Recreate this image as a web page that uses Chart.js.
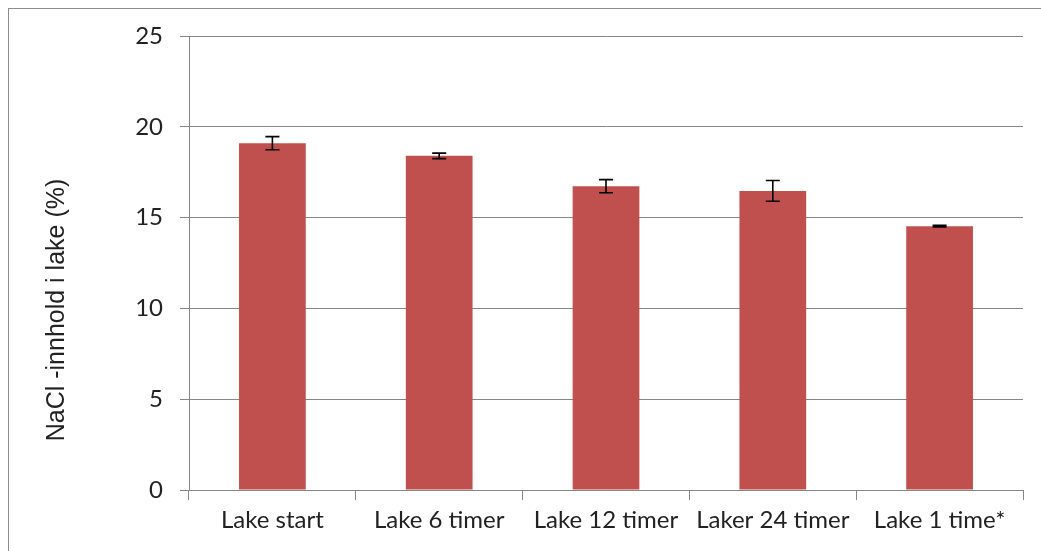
<!DOCTYPE html>
<html>
<head>
<meta charset="utf-8">
<script src="https://cdn.jsdelivr.net/npm/chart.js@4"></script>
<style>
    body { margin: 0; background: #fff; }
    #wrap { width: 1041px; height: 551px; position: relative; }
</style>
</head>
<body>
<div id="wrap"><canvas id="naclChart"></canvas></div>
<script>
// data
const categories = ['Lake start', 'Lake 6 timer', 'Lake 12 timer', 'Laker 24 timer', 'Lake 1 time*'];
const naclValues = [19.1, 18.4, 16.73, 16.47, 14.53];
const naclErrors = [0.36, 0.15, 0.36, 0.57, 0.04];
const yTicks = [0, 5, 10, 15, 20, 25];

// Error bars (Chart.js has none built in)
const errorBars = {
    id: 'errorBars',
    afterDatasetsDraw: chart => {
        const ctx = chart.ctx;
        const x = chart.scales.x;
        const y = chart.scales.y;
        ctx.save();
        ctx.strokeStyle = '#000';
        ctx.lineWidth = 1.6;
        naclValues.forEach((v, i) => {
            const cx = x.getPixelForValue(i);
            const top = y.getPixelForValue(v + naclErrors[i]);
            const bot = y.getPixelForValue(v - naclErrors[i]);
            ctx.beginPath();
            ctx.moveTo(cx, top); ctx.lineTo(cx, bot);
            ctx.moveTo(cx - 7, top); ctx.lineTo(cx + 7, top);
            ctx.moveTo(cx - 7, bot); ctx.lineTo(cx + 7, bot);
            ctx.stroke();
        });
        ctx.restore();
    }
};

// frame + rotated y title placed like the original
const frame = {
    id: 'frame',
    beforeDraw: chart => {
        const ctx = chart.ctx;
        ctx.save();
        ctx.fillStyle = '#fff';
        ctx.fillRect(0, 0, chart.width, chart.height);
        ctx.strokeStyle = '#8c8c8c';
        ctx.lineWidth = 1;
        ctx.strokeRect(8.5, 8.5, chart.width, chart.height);
        ctx.restore();
    },
    afterDraw: chart => {
        const ctx = chart.ctx;
        ctx.save();
        ctx.translate(57, 310);
        ctx.rotate(-Math.PI / 2);
        ctx.fillStyle = '#222';
        ctx.font = '25px "Liberation Sans", Arial, sans-serif';
        ctx.textAlign = 'center';
        ctx.textBaseline = 'middle';
        ctx.fillText('NaCl -innhold i lake (%)', 0, 0);
        ctx.restore();
    }
};

window.addEventListener('DOMContentLoaded', () => {
    const ctx = document.getElementById('naclChart').getContext('2d');

    new Chart(ctx, {
        type: 'bar',
        data: {
            labels: categories,
            datasets: [{
                data: naclValues,
                backgroundColor: '#C0504D',
                barPercentage: 0.4,
                categoryPercentage: 1.0
            }]
        },
        options: {
            responsive: true,
            maintainAspectRatio: false,
            animation: false,
            layout: { padding: { top: 36, right: 18, left: 0, bottom: 0 } },
            plugins: {
                legend: { display: false },
                tooltip: { enabled: false }
            },
            scales: {
                x: {
                    afterFit: s => { s.height = 61; },
                    grid: {
                        offset: true,
                        drawOnChartArea: false,
                        drawTicks: true,
                        tickLength: 10,
                        color: '#868686'
                    },
                    border: { color: '#868686' },
                    ticks: {
                        color: '#222',
                        padding: 6,
                        font: { family: 'Lato, "Open Sans", sans-serif', size: 24 }
                    }
                },
                y: {
                    min: 0,
                    max: 25,
                    afterFit: s => { s.width = 189; },
                    afterBuildTicks: s => { s.ticks = yTicks.map(v => ({ value: v })); },
                    grid: {
                        color: '#868686',
                        tickLength: 9
                    },
                    border: { color: '#868686' },
                    ticks: {
                        color: '#222',
                        padding: 17,
                        font: { family: 'Lato, "Open Sans", sans-serif', size: 24 }
                    }
                }
            }
        },
        plugins: [frame, errorBars]
    });
});
</script>
</body>
</html>
